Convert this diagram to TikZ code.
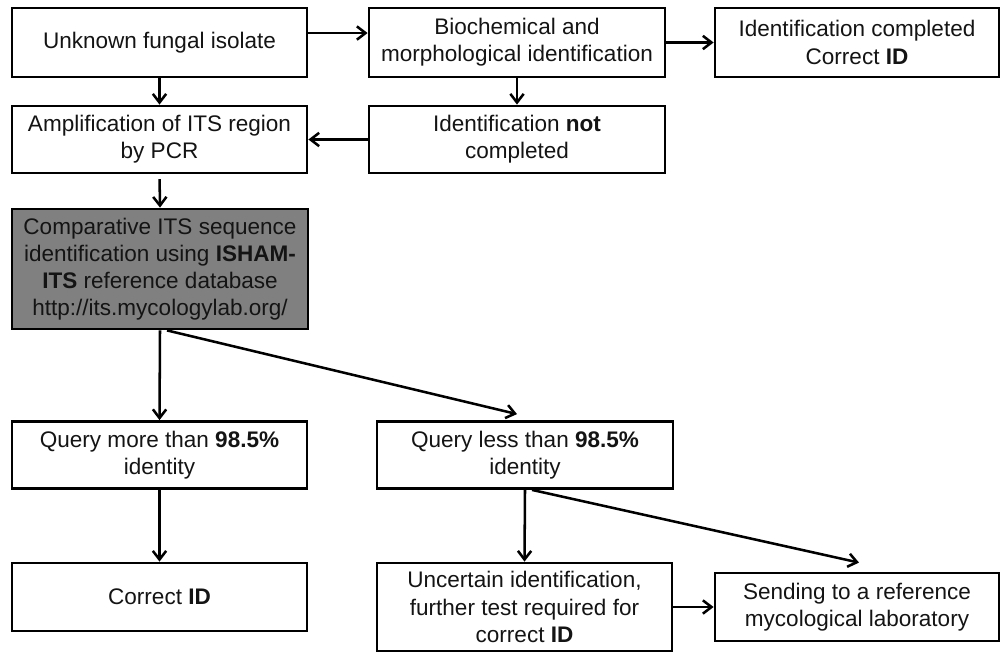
\documentclass[tikz,border=0pt]{standalone}
\usepackage{fontspec}
\setmainfont{Liberation Sans}
\usetikzlibrary{arrows.meta}
\definecolor{boxgray}{HTML}{808080}
\definecolor{txt}{HTML}{141414}
\tikzset{
  fbox/.style={draw=black, line width=2.1pt, fill=white, align=center, inner sep=0pt,
    text=txt, font=\fontsize{16.9}{20.4}\selectfont},
  arr/.style={line width=1.9pt, -{Straight Barb[length=6.5pt,width=10pt,line width=1.9pt]}}
}
\begin{document}
\begin{tikzpicture}[x=0.75pt,y=-0.75pt]
\useasboundingbox (0,0) rectangle (1002,653);
\node[fbox, minimum width=221.25pt, minimum height=51.75pt] (A) at (159.5,42.5) {Unknown fungal isolate};
\node[fbox, minimum width=222pt, minimum height=51.75pt] (B) at (517,42.5) {Biochemical and\\morphological identification};
\node[fbox, minimum width=213pt, minimum height=51.75pt] (C) at (857,42.5) {Identification completed\\Correct \textbf{ID}};
\node[fbox, minimum width=221.25pt, minimum height=50.25pt] (D) at (159.5,139.5) {Amplification of ITS region\\by PCR};
\node[fbox, minimum width=222pt, minimum height=50.25pt] (E) at (517,139.5) {Identification \textbf{not}\\completed};
\node[fbox, fill=boxgray, minimum width=222pt, minimum height=90pt] (F) at (160,269) {Comparative ITS sequence\\identification using \textbf{ISHAM-}\\\textbf{ITS} reference database\\http://its.mycologylab.org/};
\node[fbox, minimum width=221.25pt, minimum height=50.25pt] (G) at (159.5,455) {Query more than \textbf{98.5\%}\\identity};
\node[fbox, minimum width=222pt, minimum height=50.25pt] (H) at (525,455) {Query less than \textbf{98.5\%}\\identity};
\node[fbox, minimum width=221.25pt, minimum height=51pt] (I) at (159.5,597) {Correct \textbf{ID}};
\node[fbox, minimum width=221.25pt, minimum height=66pt] (J) at (524.5,607) {Uncertain identification,\\further test required for\\correct \textbf{ID}};
\node[fbox, minimum width=213pt, minimum height=51pt] (K) at (857,607) {Sending to a reference\\mycological laboratory};
\draw[arr] ([yshift=7.1pt]A.east) -- ([yshift=7.1pt]B.west);
\draw[arr] (B.east) -- (C.west);
\draw[arr] (A.south) -- (D.north);
\draw[arr] (B.south) -- (E.north);
\draw[arr] (E.west) -- (D.east);
\draw[arr, shorten <=3.5pt] (D.south) -- (F.north);
\draw[arr] (F.south) -- (G.north);
\draw[arr] ([xshift=5.25pt]F.south) -- ([xshift=-6pt,yshift=4.5pt]H.north);
\draw[arr] (G.south) -- (I.north);
\draw[arr] (H.south) -- (J.north);
\draw[arr] ([xshift=5.25pt]H.south) -- ([xshift=1.5pt,yshift=6.75pt]K.north);
\draw[arr] (J.east) -- (K.west);
\end{tikzpicture}
\end{document}
